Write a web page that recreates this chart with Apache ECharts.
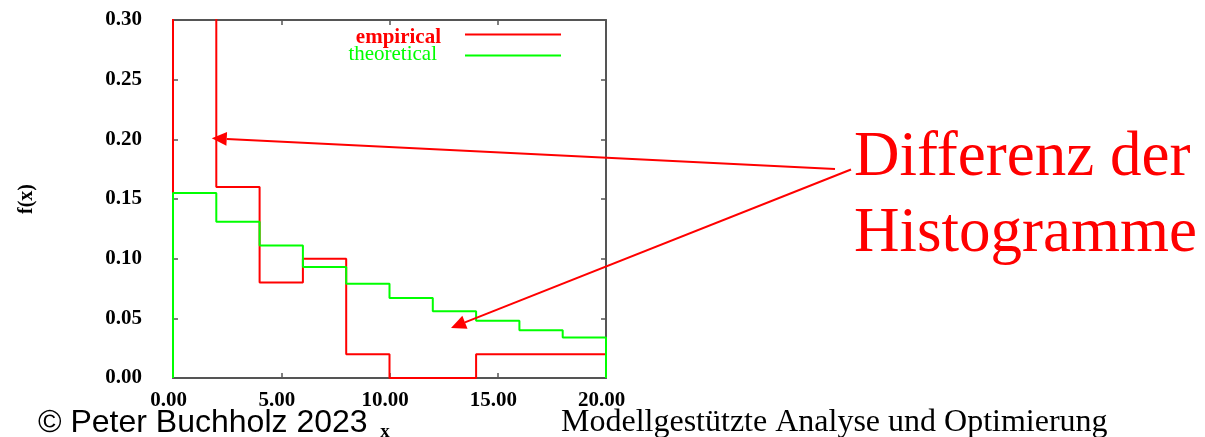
<!DOCTYPE html>
<html>
<head>
<meta charset="utf-8">
<script src="https://cdn.jsdelivr.net/npm/echarts@6/dist/echarts.min.js"></script>
<style>
  html, body { margin: 0; padding: 0; background: #ffffff; }
  #c { width: 1205px; height: 437px; }
</style>
</head>
<body>
<div id="c"></div>
<script>
// class boundaries of the histogram (width 2)
const binEdges = [0, 2, 4, 6, 8, 10, 12, 14, 16, 18, 20];
// relative frequency per class
const empirical = [0.58, 0.16, 0.08, 0.10, 0.02, 0.00, 0.00, 0.02, 0.02, 0.02];
const theoretical = [0.155, 0.131, 0.111, 0.093, 0.079, 0.067, 0.056, 0.048, 0.040, 0.034];
const seriesNames = ['empirical', 'theoretical'];
const annotationLines = ['Differenz der', 'Histogramme'];
// points the two arrows point at, in data units
const arrowTargets = [[1.79, 0.201], [12.84, 0.042]];
const footerLeft = '\u00A9 Peter Buchholz 2023';
const footerRight = 'Modellgest\u00FCtzte Analyse und Optimierung';

const RED = '#ff0000';
const GREEN = '#00ff00';
const AXIS = '#555555';
const SERIF = '"Liberation Serif", "Times New Roman", serif';
const SANS = '"Liberation Sans", Arial, sans-serif';

// outline of a histogram drawn as steps, closed down to zero at both ends
function stepPath(values) {
  const pts = [[binEdges[0], 0]];
  values.forEach((v, i) => {
    pts.push([binEdges[i], v]);
    pts.push([binEdges[i + 1], v]);
  });
  pts.push([binEdges[binEdges.length - 1], 0]);
  return pts;
}

const chart = echarts.init(document.getElementById('c'), null, { renderer: 'canvas' });

const tickLabel = { fontFamily: SERIF, fontWeight: 'bold', fontSize: 21, color: '#000' };
const frame = { show: true, onZero: false, lineStyle: { color: AXIS, width: 2 } };
const innerTick = { show: true, inside: true, length: 5, lineStyle: { color: AXIS, width: 1.5 } };

chart.setOption({
  animation: false,
  backgroundColor: '#ffffff',
  grid: { left: 173, right: 599, top: 20, bottom: 59, outerBoundsMode: 'none', containLabel: false },
  xAxis: [
    {
      type: 'value', position: 'bottom', min: 0, max: 20, interval: 5,
      axisLine: frame, axisTick: innerTick, splitLine: { show: false },
      axisLabel: Object.assign({ margin: 12, padding: [0, 9, 0, 0], formatter: v => v.toFixed(2) }, tickLabel),
      name: 'x', nameLocation: 'middle', nameGap: 45,
      nameTextStyle: { fontFamily: SERIF, fontWeight: 'bold', fontSize: 19, color: '#000', padding: [0, 9, 0, 0] }
    },
    {
      type: 'value', position: 'top', min: 0, max: 20, interval: 5,
      axisLine: frame, axisTick: innerTick, splitLine: { show: false },
      axisLabel: { show: false }
    }
  ],
  yAxis: [
    {
      type: 'value', position: 'left', min: 0, max: 0.3, interval: 0.05,
      axisLine: frame, axisTick: innerTick, splitLine: { show: false },
      axisLabel: Object.assign({ margin: 31, formatter: v => v.toFixed(2) }, tickLabel),
      name: 'f(x)', nameLocation: 'middle', nameRotate: 90, nameGap: 136,
      nameTextStyle: { fontFamily: SERIF, fontWeight: 'bold', fontSize: 20, color: '#000' }
    },
    {
      type: 'value', position: 'right', min: 0, max: 0.3, interval: 0.05,
      axisLine: frame, axisTick: innerTick, splitLine: { show: false },
      axisLabel: { show: false }
    }
  ],
  series: [
    {
      name: seriesNames[0], type: 'line', data: stepPath(empirical),
      showSymbol: false, clip: true, z: 2,
      lineStyle: { color: RED, width: 2 }, itemStyle: { color: RED }
    },
    {
      name: seriesNames[1], type: 'line', data: stepPath(theoretical),
      showSymbol: false, clip: true, z: 3,
      lineStyle: { color: GREEN, width: 2 }, itemStyle: { color: GREEN }
    }
  ]
});

// arrow from a pixel start point to a data point inside the plot
function arrow(from, targetData) {
  const tip = chart.convertToPixel({ gridIndex: 0 }, targetData);
  const dx = tip[0] - from[0], dy = tip[1] - from[1];
  const len = Math.hypot(dx, dy);
  const ux = dx / len, uy = dy / len;
  const headLen = 15, headHalf = 7;
  const base = [tip[0] - ux * headLen, tip[1] - uy * headLen];
  const nx = -uy, ny = ux;
  return [
    { type: 'line', silent: true, z: 10,
      shape: { x1: from[0], y1: from[1], x2: base[0], y2: base[1] },
      style: { stroke: RED, lineWidth: 2 } },
    { type: 'polygon', silent: true, z: 10,
      shape: { points: [tip, [base[0] + nx * headHalf, base[1] + ny * headHalf], [base[0] - nx * headHalf, base[1] - ny * headHalf]] },
      style: { fill: RED } }
  ];
}

const graphics = [
  // key for the two step curves
  { type: 'text', silent: true, style: { x: 441, y: 38, text: seriesNames[0], align: 'right', verticalAlign: 'middle',
      font: 'bold 21px ' + SERIF, fill: RED } },
  { type: 'line', silent: true, shape: { x1: 465, y1: 34.5, x2: 561, y2: 34.5 }, style: { stroke: RED, lineWidth: 2 } },
  { type: 'text', silent: true, style: { x: 437, y: 54.5, text: seriesNames[1], align: 'right', verticalAlign: 'middle',
      font: '21px ' + SERIF, fill: GREEN } },
  { type: 'line', silent: true, shape: { x1: 465, y1: 55.5, x2: 561, y2: 55.5 }, style: { stroke: GREEN, lineWidth: 2 } },
  // annotation
  { type: 'text', silent: true, style: { x: 854, y: 158, text: annotationLines[0], align: 'left', verticalAlign: 'middle',
      font: '63px ' + SERIF, fill: RED } },
  { type: 'text', silent: true, style: { x: 854, y: 234, text: annotationLines[1], align: 'left', verticalAlign: 'middle',
      font: '63px ' + SERIF, fill: RED } },
  // footer
  { type: 'text', silent: true, style: { x: 38, y: 423, text: footerLeft, align: 'left', verticalAlign: 'middle',
      font: '32px ' + SANS, fill: '#000' } },
  { type: 'text', silent: true, style: { x: 561, y: 423, text: footerRight, align: 'left', verticalAlign: 'middle',
      font: '32px ' + SERIF, fill: '#000' } }
]
  .concat(arrow([835, 169], arrowTargets[0]))
  .concat(arrow([851, 169.5], arrowTargets[1]));

chart.setOption({ graphic: graphics });
</script>
</body>
</html>
